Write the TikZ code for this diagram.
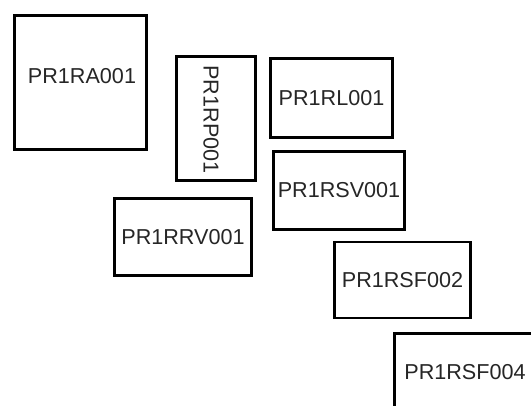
\documentclass[tikz,border=0pt]{standalone}
\usepackage{fontspec}
\setmainfont{Liberation Sans}
\usepackage{tikz}
\usetikzlibrary{positioning}

\begin{document}
\begin{tikzpicture}[x=1pt, y=-1pt,
  rack/.style={draw, line width=2.6pt, inner sep=0pt, text=black!85,
    font=\fontsize{21.6}{25}\selectfont}]
\useasboundingbox (0,0) rectangle (531,405);
\clip (0,0) rectangle (531,405);
\node[rack, minimum width=132pt, minimum height=134pt] (ra) at (80.5,82.5) {};
\node[text=black!85, font=\fontsize{21.6}{25}\selectfont] (ralabel) at (82,76.5) {PR1RA001};
\node[rack, minimum width=79pt, minimum height=124pt] (rp) at (216,118.5) {};
\node[rotate=-90, text=black!85, font=\fontsize{21.6}{25}\selectfont] (rplabel) at (211,119.5) {PR1RP001};
\node[rack, minimum width=122pt, minimum height=79pt] (rl) at (331.5,98) {PR1RL001};
\node[rack, minimum width=131pt, minimum height=78pt] (rsv) at (339,190.5) {PR1RSV001};
\node[rack, minimum width=137pt, minimum height=77pt] (rrv) at (183,237) {PR1RRV001};
\node[rack, minimum width=136pt, minimum height=76pt] (rsf2) at (402.5,280) {PR1RSF002};
\node[rack, minimum width=141pt, minimum height=77pt] (rsf4) at (465,372) {PR1RSF004};
\end{tikzpicture}
\end{document}
